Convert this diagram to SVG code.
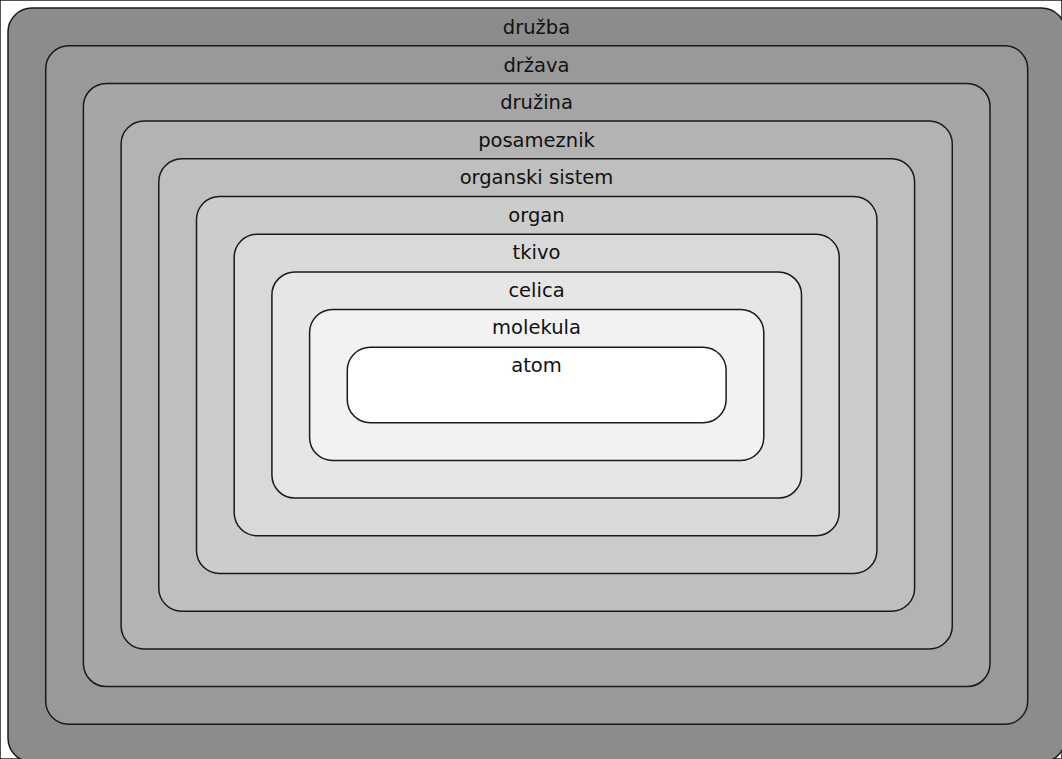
<svg xmlns="http://www.w3.org/2000/svg" width="1062" height="759" viewBox="0 0 1062 759">
<style>
rect { stroke: #1a1a1a; stroke-width: 1.5; }
text { font-family: "DejaVu Sans", "Liberation Sans", sans-serif; font-size: 19.5px; fill: #111; text-anchor: middle; }
</style>
<rect x="0" y="0" width="1062" height="759" fill="#ffffff" stroke="none"/>
<g id="druzba"><rect x="8" y="8" width="1057.4" height="754" rx="24" fill="#8c8c8c"/><text x="536.5" y="34">družba</text></g>
<g id="drzava"><rect x="45.7" y="45.7" width="982" height="678.6" rx="23" fill="#999999"/><text x="536.5" y="71.5">država</text></g>
<g id="druzina"><rect x="83.4" y="83.4" width="906.6" height="603.2" rx="23" fill="#a6a6a6"/><text x="536.5" y="109">družina</text></g>
<g id="posameznik"><rect x="121.1" y="121.1" width="831.2" height="527.8" rx="23" fill="#b3b3b3"/><text x="536.5" y="146.5">posameznik</text></g>
<g id="organski-sistem"><rect x="158.8" y="158.8" width="755.8" height="452.4" rx="23" fill="#bfbfbf"/><text x="536.5" y="184">organski sistem</text></g>
<g id="organ"><rect x="196.5" y="196.5" width="680.4" height="377" rx="23" fill="#cccccc"/><text x="536.5" y="221.5">organ</text></g>
<g id="tkivo"><rect x="234.2" y="234.2" width="605" height="301.6" rx="23" fill="#d9d9d9"/><text x="536.5" y="259">tkivo</text></g>
<g id="celica"><rect x="271.9" y="271.9" width="529.6" height="226.2" rx="23" fill="#e6e6e6"/><text x="536.5" y="296.5">celica</text></g>
<g id="molekula"><rect x="309.6" y="309.6" width="454.2" height="150.8" rx="23" fill="#f2f2f2"/><text x="536.5" y="334">molekula</text></g>
<g id="atom"><rect x="347.3" y="347.3" width="378.8" height="75.4" rx="23" fill="#ffffff"/><text x="536.5" y="371.5">atom</text></g>
<g id="connectors"></g>
</svg>
